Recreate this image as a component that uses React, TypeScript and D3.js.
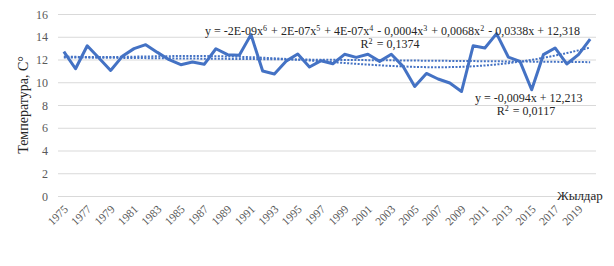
import React from "react";
import * as d3 from "d3";

const years: number[] = d3.range(1975, 2021);
const temps: number[] = [
  12.73, 11.23, 13.25, 12.18, 11.08, 12.32, 13.0, 13.35, 12.67, 12.03,
  11.59, 11.82, 11.62, 12.99, 12.47, 12.41, 14.23, 11.03, 10.77, 11.9,
  12.53, 11.38, 11.94, 11.67, 12.5, 12.23, 12.5, 11.88, 12.5, 11.44,
  9.67, 10.82, 10.33, 9.98, 9.23, 13.26, 13.06, 14.32, 12.26, 11.88,
  9.38, 12.47, 13.06, 11.65, 12.47, 13.83,
];
const yTicks: number[] = [0, 2, 4, 6, 8, 10, 12, 14, 16];
// equation parts: [text, superscript]
const polyEquation: [string, string][] = [
  ["y = -2E-09x", "6"], [" + 2E-07x", "5"], [" + 4E-07x", "4"], [" - 0,0004x", "3"],
  [" + 0,0068x", "2"], [" - 0,0338x + 12,318", ""],
];
const polyR2: [string, string][] = [["R", "2"], [" = 0,1374", ""]];
const linEquation: [string, string][] = [["y = -0,0094x + 12,213", ""]];
const linR2: [string, string][] = [["R", "2"], [" = 0,0117", ""]];
const yTitle = "Температура,  С°";
const xTitle = "Жылдар";

function polyFit(xs: number[], ys: number[], deg: number) {
  const c = (xs[0] + xs[xs.length - 1]) / 2;
  const h = (xs[xs.length - 1] - xs[0]) / 2;
  const n = deg + 1;
  const M: number[][] = Array.from({ length: n }, () => new Array(n + 1).fill(0));
  xs.forEach((x, k) => {
    const t = (x - c) / h;
    const p: number[] = [];
    for (let i = 0; i < n; i++) p.push(Math.pow(t, i));
    for (let i = 0; i < n; i++) {
      for (let j = 0; j < n; j++) M[i][j] += p[i] * p[j];
      M[i][n] += p[i] * ys[k];
    }
  });
  for (let i = 0; i < n; i++) {
    let piv = i;
    for (let r = i + 1; r < n; r++) if (Math.abs(M[r][i]) > Math.abs(M[piv][i])) piv = r;
    [M[i], M[piv]] = [M[piv], M[i]];
    for (let r = 0; r < n; r++) {
      if (r === i) continue;
      const f = M[r][i] / M[i][i];
      for (let col = i; col <= n; col++) M[r][col] -= f * M[i][col];
    }
  }
  const coef = M.map((row, i) => row[n] / row[i]);
  return (x: number) => {
    const t = (x - c) / h;
    let s = 0;
    for (let i = 0; i < n; i++) s += coef[i] * Math.pow(t, i);
    return s;
  };
}

function Eq({ parts, x, y, anchor = "start" }: { parts: [string, string][]; x: number; y: number; anchor?: string }) {
  return (
    <text x={x} y={y} fontSize={12} textAnchor={anchor} fill="#262626">
      {parts.map(([t, s], i) => (
        <React.Fragment key={i}>
          <tspan>{t}</tspan>
          {s ? <tspan fontSize={8} dy={-4}>{s}</tspan> : null}
          {s ? <tspan dy={4}>{"\u200A"}</tspan> : null}
        </React.Fragment>
      ))}
    </text>
  );
}

export default function App() {
  const W = 614, H = 266;
  const left = 58, right = 596, top = 14.5, bottom = 196.5;
  const x = d3.scaleBand<number>().domain(years).range([left, right]);
  const cx = (yr: number) => (x(yr) as number) + x.bandwidth() / 2;
  const y = d3.scaleLinear().domain([0, 16]).range([bottom, top]);
  const idx = years.map((_, i) => i + 1);
  const xi = d3.scaleLinear().domain([1, years.length]).range([cx(years[0]), cx(years[years.length - 1])]);

  const line = d3.line<number>().x((_, i) => cx(years[i])).y((v) => y(v));
  const poly = polyFit(idx, temps, 6);
  const lin = polyFit(idx, temps, 1);
  const fine = d3.range(1, years.length + 0.001, 0.25);
  const polyPath = d3.line<number>().x((t) => xi(t)).y((t) => y(poly(t)))(fine);
  const linPath = d3.line<number>().x((t) => xi(t)).y((t) => y(lin(t)))([1, years.length]);

  const font = "'Liberation Serif', 'Times New Roman', serif";
  return (
    <svg width={W} height={H} style={{ position: "absolute", left: 0, top: 0, background: "#fff" }} fontFamily={font}>
      {yTicks.map((t) => (
        <g key={t}>
          <line x1={left} x2={right} y1={y(t)} y2={y(t)} stroke="#d9d9d9" strokeWidth={1} />
          <text x={48} y={y(t)} dy="0.35em" textAnchor="end" fontSize={12} fill="#595959">{t}</text>
        </g>
      ))}
      {years.map((yr, i) =>
        i % 2 === 0 ? (
          <text key={yr} transform={`translate(${cx(yr) + 2},${207}) rotate(-45)`} textAnchor="end" dy="0.35em" fontSize={11.5} fill="#595959">{yr}</text>
        ) : null
      )}
      <path d={linPath || ""} fill="none" stroke="#4472c4" strokeWidth={2} strokeDasharray="2 1.5" />
      <path d={polyPath || ""} fill="none" stroke="#4472c4" strokeWidth={2} strokeDasharray="2 1.5" />
      <path d={line(temps) || ""} fill="none" stroke="#4472c4" strokeWidth={3} strokeLinejoin="round" />
      <Eq parts={polyEquation} x={205} y={35} />
      <Eq parts={polyR2} x={390} y={48} anchor="middle" />
      <Eq parts={linEquation} x={475} y={101.5} />
      <Eq parts={linR2} x={526} y={114.5} anchor="middle" />
      <text transform={`translate(28,105) rotate(-90)`} textAnchor="middle" fontSize={14} fill="#262626">{yTitle}</text>
      <text x={557} y={200} fontSize={13} fill="#262626">{xTitle}</text>
    </svg>
  );
}
